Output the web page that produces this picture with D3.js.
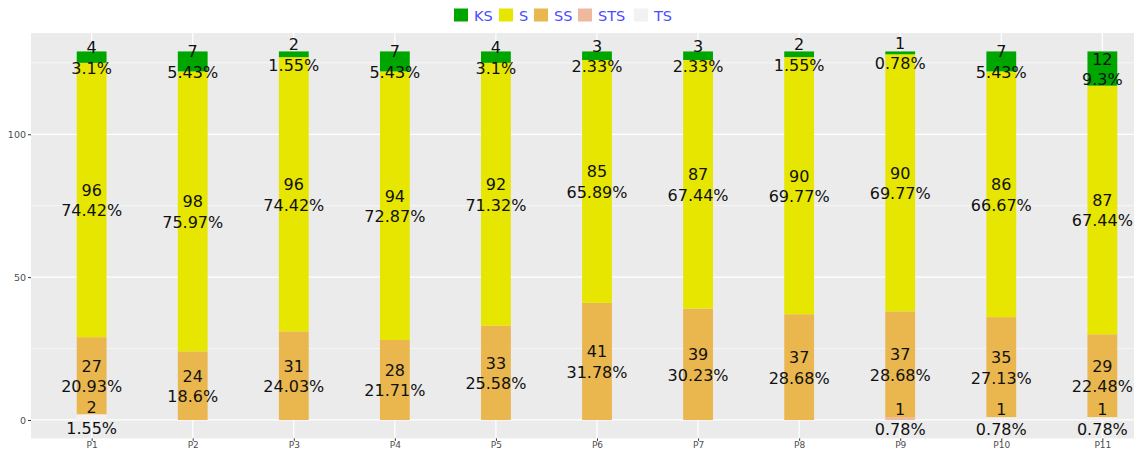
<!DOCTYPE html>
<html><head><meta charset="utf-8">
<script src="https://cdn.jsdelivr.net/npm/d3@7"></script>
<style>body{margin:0;background:#fff;} svg{display:block;}</style>
</head><body>
<svg id="chart" width="1134" height="450"></svg>
<script>
const categories = ["P1","P2","P3","P4","P5","P6","P7","P8","P9","P10","P11"];
const seriesNames = ["KS","S","SS","STS","TS"];
const KS  = [4,7,2,7,4,3,3,2,1,7,12];
const S   = [96,98,96,94,92,85,87,90,90,86,87];
const SS  = [27,24,31,28,33,41,39,37,37,35,29];
const STS = [0,0,0,0,0,0,0,0,1,0,0];
const TS  = [2,0,0,0,0,0,0,0,0,1,1];
const colors = ["#00A600","#E6E600","#EAB64E","#EEB99F","#F2F2F2"];
const yTicks = [0,50,100];
const yMinor = [25,75,125];

const values = {KS, S, SS, STS, TS};
const rows = categories.map((c,i)=>{const r={cat:c}; seriesNames.forEach(s=>r[s]=values[s][i]); return r;});
const stackOrder = ["TS","STS","SS","S","KS"]; // bottom to top
const stacked = d3.stack().keys(stackOrder)(rows);

const svg = d3.select("#chart");
const panel = {left:31, right:1163, top:33, bottom:438.4};
const total = d3.max(rows, r=>d3.sum(seriesNames, s=>r[s]));
const ext = total*0.05;
const y = d3.scaleLinear().domain([-ext, total+ext]).range([panel.bottom, panel.top]);
const x = d3.scalePoint().domain(categories).range([panel.left, panel.right]).padding(0.6);
const barW = x.step()*0.295;
const color = d3.scaleOrdinal().domain(seriesNames).range(colors);

// panel bg
svg.append("rect").attr("x",panel.left).attr("y",panel.top)
  .attr("width",panel.right-panel.left).attr("height",panel.bottom-panel.top).attr("fill","#EBEBEB");
// grid
const g = svg.append("g");
yMinor.forEach(v=>g.append("line").attr("x1",panel.left).attr("x2",panel.right)
  .attr("y1",y(v)).attr("y2",y(v)).attr("stroke","#fff").attr("stroke-width",0.6));
yTicks.forEach(v=>g.append("line").attr("x1",panel.left).attr("x2",panel.right)
  .attr("y1",y(v)).attr("y2",y(v)).attr("stroke","#fff").attr("stroke-width",1.2));
categories.forEach(c=>g.append("line").attr("x1",x(c)).attr("x2",x(c))
  .attr("y1",panel.top).attr("y2",panel.bottom).attr("stroke","#fff").attr("stroke-width",1.2));

// bars
stacked.forEach(layer=>{
  svg.append("g").selectAll("rect").data(layer).join("rect")
    .attr("x",d=>x(d.data.cat)-barW/2).attr("width",barW)
    .attr("y",d=>y(d[1])).attr("height",d=>y(d[0])-y(d[1]))
    .attr("fill",color(layer.key));
});

// labels
const fmtPct = v=>String(+(v).toFixed(2))+"%";
const lab = svg.append("g").attr("font-family","DejaVu Sans, sans-serif").attr("font-size","16px")
  .attr("fill","#111").attr("text-anchor","middle");
stacked.forEach(layer=>{
  layer.forEach(d=>{
    const v = d[1]-d[0];
    if(v<=0) return;
    const tot = d3.sum(seriesNames, s=>d.data[s]);
    const cy = y((d[0]+d[1])/2);
    const cx = x(d.data.cat);
    lab.append("text").attr("x",cx).attr("y",cy-9.5).attr("dominant-baseline","central").text(v);
    lab.append("text").attr("x",cx).attr("y",cy+11).attr("dominant-baseline","central").text(fmtPct(v/tot*100));
  });
});

// axes
const yAxis = d3.axisLeft(y).tickValues(yTicks).tickSize(3).tickPadding(2);
const ya = svg.append("g").attr("transform",`translate(${panel.left},0)`).call(yAxis);
ya.select(".domain").remove();
ya.selectAll("line").attr("stroke","#333");
ya.selectAll("text").attr("font-family","DejaVu Sans, sans-serif").attr("font-size","9.5px").attr("fill","#4d4d4d");
const xAxis = d3.axisBottom(x).tickSize(2.5).tickPadding(0.5);
const xa = svg.append("g").attr("transform",`translate(0,${panel.bottom})`).call(xAxis);
xa.select(".domain").remove();
xa.selectAll("line").attr("stroke","#333");
xa.selectAll("text").attr("font-family","DejaVu Sans, sans-serif").attr("font-size","9px").attr("fill","#4d4d4d");

// legend
const legendX = [454,499,534,578,634];
const lg = svg.append("g");
seriesNames.forEach((s,i)=>{
  lg.append("rect").attr("x",legendX[i]).attr("y",8.5).attr("width",14).attr("height",13)
    .attr("fill",color(s));
  lg.append("text").attr("x",legendX[i]+20).attr("y",15.5).attr("dominant-baseline","central")
    .attr("font-family","DejaVu Sans, sans-serif").attr("font-size","14.5px").attr("fill","#4a4aff").text(s);
});
</script>
</body></html>
